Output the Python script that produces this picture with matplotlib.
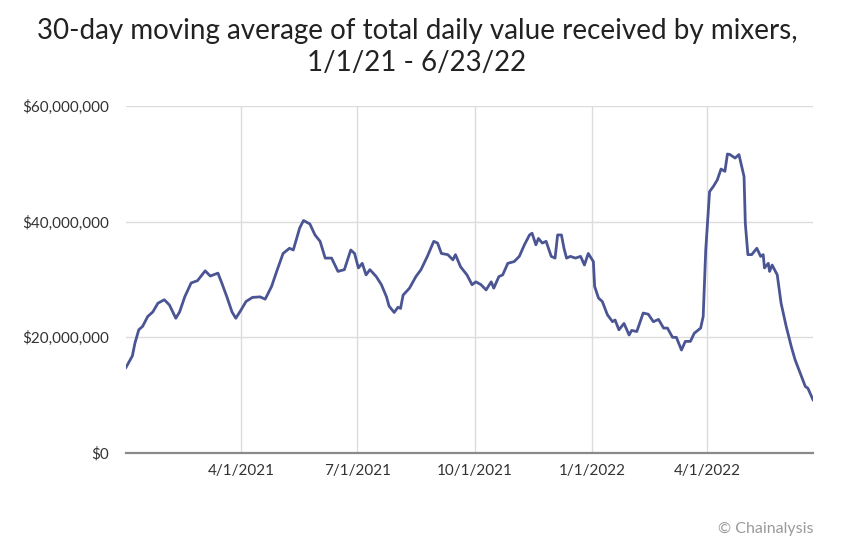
import matplotlib
matplotlib.use("Agg")
import matplotlib.pyplot as plt
import pandas as pd

dates = [
    "2021-01-01", "2021-01-06", "2021-01-08", "2021-01-11", "2021-01-14", "2021-01-18",
    "2021-01-22", "2021-01-26", "2021-01-31", "2021-02-04", "2021-02-09", "2021-02-12",
    "2021-02-16", "2021-02-21", "2021-02-26", "2021-03-04", "2021-03-08", "2021-03-14",
    "2021-03-17", "2021-03-21", "2021-03-25", "2021-03-28", "2021-04-01", "2021-04-05",
    "2021-04-10", "2021-04-16", "2021-04-20", "2021-04-25", "2021-04-29", "2021-05-04",
    "2021-05-09", "2021-05-12", "2021-05-17", "2021-05-20", "2021-05-25", "2021-05-29",
    "2021-06-02", "2021-06-06", "2021-06-11", "2021-06-16", "2021-06-21", "2021-06-26",
    "2021-06-29", "2021-07-02", "2021-07-05", "2021-07-08", "2021-07-11", "2021-07-16",
    "2021-07-20", "2021-07-24", "2021-07-26", "2021-07-30", "2021-08-02", "2021-08-04",
    "2021-08-06", "2021-08-11", "2021-08-16", "2021-08-20", "2021-08-25", "2021-08-30",
    "2021-09-02", "2021-09-05", "2021-09-10", "2021-09-14", "2021-09-16", "2021-09-20",
    "2021-09-25", "2021-09-29", "2021-10-02", "2021-10-06", "2021-10-10", "2021-10-14",
    "2021-10-16", "2021-10-20", "2021-10-23", "2021-10-27", "2021-11-01", "2021-11-05",
    "2021-11-09", "2021-11-13", "2021-11-15", "2021-11-18", "2021-11-20", "2021-11-23",
    "2021-11-26", "2021-11-30", "2021-12-03", "2021-12-05", "2021-12-08", "2021-12-10",
    "2021-12-12", "2021-12-15", "2021-12-19", "2021-12-23", "2021-12-26", "2021-12-29",
    "2022-01-02", "2022-01-03", "2022-01-06", "2022-01-09", "2022-01-13", "2022-01-17",
    "2022-01-19", "2022-01-22", "2022-01-26", "2022-01-30", "2022-02-01", "2022-02-05",
    "2022-02-10", "2022-02-14", "2022-02-18", "2022-02-22", "2022-02-26", "2022-03-01",
    "2022-03-05", "2022-03-08", "2022-03-12", "2022-03-15", "2022-03-19", "2022-03-22",
    "2022-03-27", "2022-03-29", "2022-03-30", "2022-03-31", "2022-04-03", "2022-04-06",
    "2022-04-09", "2022-04-12", "2022-04-15", "2022-04-17", "2022-04-19", "2022-04-23",
    "2022-04-26", "2022-04-30", "2022-05-01", "2022-05-03", "2022-05-06", "2022-05-10",
    "2022-05-13", "2022-05-15", "2022-05-16", "2022-05-19", "2022-05-20", "2022-05-22",
    "2022-05-26", "2022-05-29", "2022-06-02", "2022-06-06", "2022-06-09", "2022-06-13",
    "2022-06-17", "2022-06-19", "2022-06-23",
]

# 30-day moving average, millions of USD
values_m = [
    14.8, 16.8, 19.0, 21.3, 21.9, 23.6,
    24.4, 25.9, 26.5, 25.6, 23.3, 24.4,
    27.0, 29.4, 29.8, 31.5, 30.6, 31.1,
    29.4, 27.0, 24.4, 23.3, 24.7, 26.2,
    26.9, 27.0, 26.6, 28.8, 31.4, 34.5,
    35.4, 35.1, 38.9, 40.2, 39.6, 37.7,
    36.6, 33.7, 33.7, 31.4, 31.7, 35.1,
    34.5, 32.0, 32.8, 30.8, 31.7, 30.5,
    29.1, 27.0, 25.4, 24.3, 25.2, 25.0,
    27.3, 28.5, 30.5, 31.7, 34.0, 36.6,
    36.3, 34.5, 34.3, 33.4, 34.3, 32.2,
    30.8, 29.1, 29.6, 29.1, 28.2, 29.6,
    28.5, 30.5, 30.8, 32.8, 33.1, 34.0,
    36.0, 37.7, 38.0, 36.0, 37.1, 36.3,
    36.6, 34.0, 33.7, 37.7, 37.7, 35.4,
    33.7, 34.0, 33.7, 34.0, 32.5, 34.5,
    33.1, 28.8, 26.8, 26.2, 23.9, 22.7,
    23.0, 21.3, 22.4, 20.4, 21.2, 21.0,
    24.2, 24.0, 22.7, 23.1, 21.6, 21.6,
    20.0, 20.0, 17.8, 19.3, 19.3, 20.7,
    21.6, 23.6, 29.4, 35.1, 45.2, 46.1,
    47.2, 49.1, 48.7, 51.7, 51.6, 51.0,
    51.6, 47.8, 39.7, 34.3, 34.3, 35.4,
    34.0, 34.3, 32.0, 32.8, 31.4, 32.5,
    30.8, 25.9, 21.9, 18.4, 16.1, 13.8,
    11.5, 11.2, 9.2,
]

x_ticks = ["2021-04-01", "2021-07-01", "2021-10-01", "2022-01-01", "2022-04-01"]
x_tick_labels = ["4/1/2021", "7/1/2021", "10/1/2021", "1/1/2022", "4/1/2022"]
y_ticks = [0, 20_000_000, 40_000_000, 60_000_000]
y_tick_labels = ["$0", "$20,000,000", "$40,000,000", "$60,000,000"]

title = "30-day moving average of total daily value received by mixers,\n1/1/21 - 6/23/22"

plt.rcParams["font.family"] = ["Lato", "DejaVu Sans"]

x = pd.to_datetime(dates)
y = [v * 1_000_000 for v in values_m]

fig = plt.figure(figsize=(8.59, 5.56), dpi=100)
ax = fig.add_axes([126 / 859, 1 - 453 / 556, (813 - 126) / 859, (453 - 106) / 556])

ax.plot(x, y, color="#4b5593", linewidth=2.0, solid_joinstyle="round", zorder=3)

ax.set_xlim(pd.Timestamp("2021-01-01"), pd.Timestamp("2022-06-23"))
ax.set_ylim(0, 60_000_000)

ax.set_xticks(pd.to_datetime(x_ticks))
ax.set_xticklabels(x_tick_labels)
ax.set_yticks(y_ticks)
ax.set_yticklabels(y_tick_labels)

ax.grid(True, color="#dcdcdc", linewidth=1.0, zorder=0)
ax.set_axisbelow(True)
for s in ["left", "right", "top"]:
    ax.spines[s].set_visible(False)
ax.spines["bottom"].set_color("#8a8a8a")
ax.spines["bottom"].set_linewidth(1.6)
ax.spines["bottom"].set_zorder(4)

ax.tick_params(axis="both", length=0, labelsize=11, labelcolor="#333333")
ax.tick_params(axis="y", pad=12)
ax.tick_params(axis="x", pad=8)

fig.text(417 / 859, 1 - 18 / 556, title, ha="center", va="top",
         fontsize=20, color="#222222", linespacing=1.3)
fig.text(813 / 859, 1 - 529 / 556, "© Chainalysis", ha="right", va="center",
         fontsize=11.5, color="#9a9a9a")

fig.savefig("out.png", dpi=100)
